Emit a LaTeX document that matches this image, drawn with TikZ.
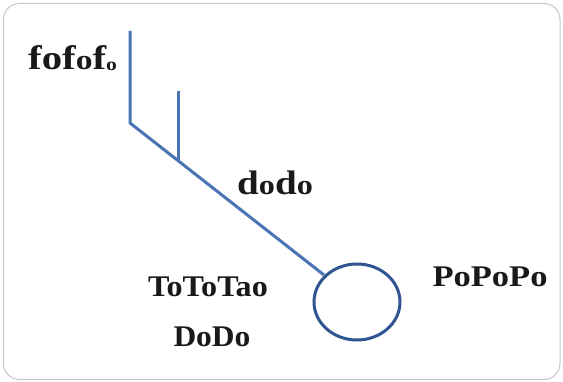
\documentclass[tikz,border=0pt]{standalone}
\usepackage{fontspec}
\setmainfont{Liberation Serif}
\usetikzlibrary{shapes.geometric}
\newcommand{\fsz}[1]{\fontsize{#1}{#1}\selectfont}
\begin{document}
\begin{tikzpicture}[x=1pt,y=-1pt,
  lbl/.style={font=\fsz{30}\bfseries, inner sep=0pt, text=black!90},
]
\definecolor{lineblue}{HTML}{4A74B4}
\definecolor{circblue}{HTML}{2F5592}
\useasboundingbox (0,0) rectangle (563,382);
\draw[gray!45, line width=1pt, rounded corners=16pt] (3.5,3.5) rectangle (560,379.5);
% structure
\coordinate (top1) at (130,31);
\coordinate (bend) at (130,123);
\coordinate (top2) at (178,91);
\coordinate (join) at (178,160);
\node[draw=circblue, line width=3pt, ellipse, minimum width=86pt, minimum height=76pt, inner sep=0pt] (bulb) at (357,302) {};
\coordinate (tip) at (324,275);
\draw[lineblue, line width=3pt, line join=round] (top1) -- (bend) -- (tip);
\draw[lineblue, line width=3pt] (top2) -- (join);
% labels
\node[lbl, anchor=base west] (f) at (28,70) {\scalebox{1.2}[1]{\fsz{34}fof{\fsz{28}o}f\raisebox{-1pt}{\fsz{18}o}}};
\node[lbl, anchor=base west] (d) at (237,195) {\scalebox{1.15}[1]{\fsz{34}d{\fsz{28}o}d{\fsz{28}o}}};
\node[lbl, anchor=base] (t) at (208,297) {\scalebox{1.07}[1]{ToToTao}};
\node[lbl, anchor=base] (dd) at (212,347) {\scalebox{1.05}[1]{DoDo}};
\node[lbl, anchor=base] (p) at (490,287) {\scalebox{1.15}[1]{PoPoPo}};
\end{tikzpicture}
\end{document}
